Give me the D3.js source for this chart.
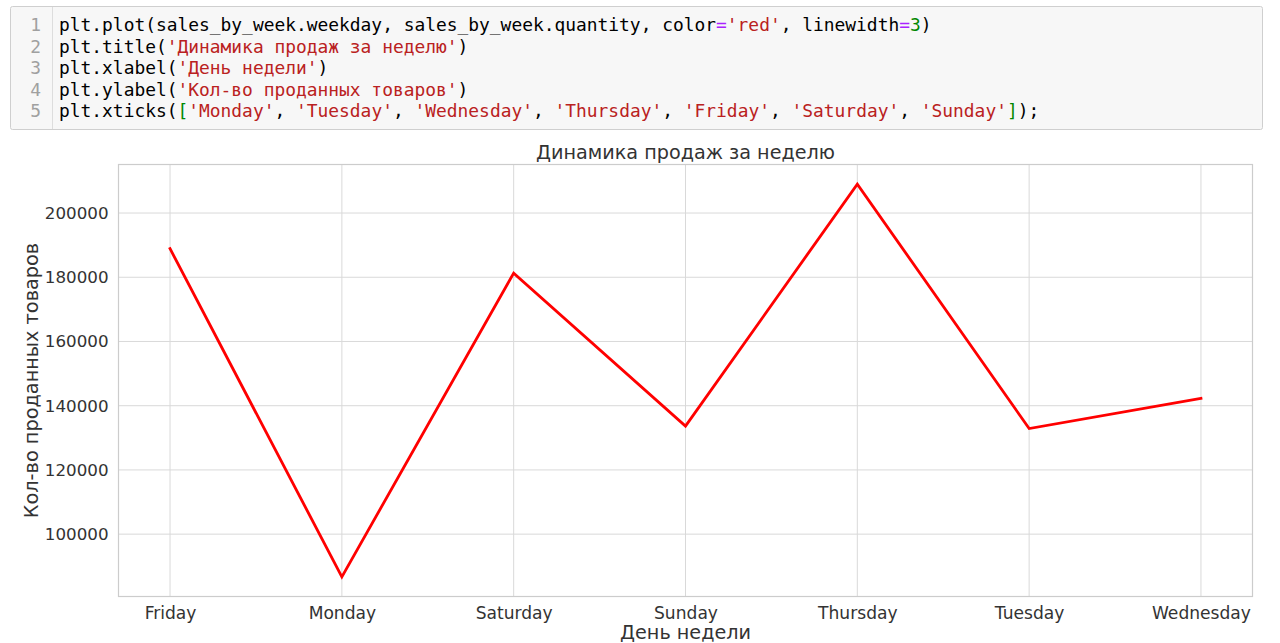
<!DOCTYPE html>
<html>
<head>
<meta charset="utf-8">
<script src="https://cdn.jsdelivr.net/npm/d3@7"></script>
<style>
  html, body { margin: 0; padding: 0; background: #fff; }
  svg { display: block; }
</style>
</head>
<body>
<svg id="chart" width="1280" height="643"></svg>
<script>
// ---- data ----
const days = ["Friday", "Monday", "Saturday", "Sunday", "Thursday", "Tuesday", "Wednesday"];
const quantity = [188900, 86700, 181300, 133650, 209000, 132900, 142250];
const yTicks = [100000, 120000, 140000, 160000, 180000, 200000];
const titleText = "Динамика продаж за неделю";
const xLabelText = "День недели";
const yLabelText = "Кол-во проданных товаров";

// code cell lines: arrays of [text, color]
const C_DEF = "#000000", C_STR = "#BA2121", C_OP = "#AA22FF", C_NUM = "#008800", C_BR = "#008800";
const codeLines = [
  [["plt.plot(sales_by_week.weekday, sales_by_week.quantity, color", C_DEF], ["=", C_OP], ["'red'", C_STR], [", linewidth", C_DEF], ["=", C_OP], ["3", C_NUM], [")", C_DEF]],
  [["plt.title(", C_DEF], ["'Динамика продаж за неделю'", C_STR], [")", C_DEF]],
  [["plt.xlabel(", C_DEF], ["'День недели'", C_STR], [")", C_DEF]],
  [["plt.ylabel(", C_DEF], ["'Кол-во проданных товаров'", C_STR], [")", C_DEF]],
  [["plt.xticks(", C_DEF], ["[", C_BR], ["'Monday'", C_STR], [", ", C_DEF], ["'Tuesday'", C_STR], [", ", C_DEF], ["'Wednesday'", C_STR], [", ", C_DEF], ["'Thursday'", C_STR], [", ", C_DEF], ["'Friday'", C_STR], [", ", C_DEF], ["'Saturday'", C_STR], [", ", C_DEF], ["'Sunday'", C_STR], ["]", C_BR], [");", C_DEF]]
];

(function () {
const svg = d3.select("#chart");

// ---- code cell ----
const cell = svg.append("g");
cell.append("rect").attr("x", 10.5).attr("y", 6.5).attr("width", 1252).attr("height", 123)
  .attr("fill", "#f7f7f7").attr("stroke", "#cfcfcf").attr("stroke-width", 1).attr("rx", 2);
cell.append("line").attr("x1", 52.5).attr("x2", 52.5).attr("y1", 7).attr("y2", 129)
  .attr("stroke", "#dddddd").attr("stroke-width", 1);
const monoFont = "'DejaVu Sans Mono', monospace";
codeLines.forEach((segs, i) => {
  const yy = 25 + i * 21.5;
  cell.append("text").attr("x", 41).attr("y", yy).attr("dy", "0.35em")
    .attr("text-anchor", "end").attr("font-family", monoFont).attr("font-size", 17.9)
    .attr("fill", "#a0a0a0").text(i + 1);
  const t = cell.append("text").attr("x", 59).attr("y", yy).attr("dy", "0.35em")
    .attr("font-family", monoFont).attr("font-size", 17.9)
    .style("white-space", "pre");
  segs.forEach(([s, c]) => t.append("tspan").attr("fill", c).text(s));
});

// ---- chart ----
const pL = 118.5, pR = 1252.5, pT = 164.5, pB = 596.5;
const sansFont = "'DejaVu Sans', sans-serif";
const textColor = "#333333";
const gridColor = "#d9d9d9";

const x = d3.scaleLinear().domain([-0.3, days.length - 1 + 0.3]).range([pL, pR]);
const ymin = d3.min(quantity), ymax = d3.max(quantity), pad = (ymax - ymin) * 0.05;
const y = d3.scaleLinear().domain([ymin - pad, ymax + pad]).range([pB, pT]);

const g = svg.append("g");

// grid
g.append("g").selectAll("line").data(days).join("line")
  .attr("x1", (d, i) => x(i)).attr("x2", (d, i) => x(i))
  .attr("y1", pT).attr("y2", pB).attr("stroke", gridColor).attr("stroke-width", 1);
g.append("g").selectAll("line").data(yTicks).join("line")
  .attr("x1", pL).attr("x2", pR)
  .attr("y1", d => y(d)).attr("y2", d => y(d)).attr("stroke", gridColor).attr("stroke-width", 1);

// spines
g.append("rect").attr("x", pL).attr("y", pT).attr("width", pR - pL).attr("height", pB - pT)
  .attr("fill", "none").attr("stroke", "#cccccc").attr("stroke-width", 1.2);

// axes
const xAxis = d3.axisBottom(x).tickValues(d3.range(days.length)).tickFormat(i => days[i]).tickSize(0).tickPadding(10);
const xg = g.append("g").attr("transform", `translate(0,${pB})`).call(xAxis);
xg.select(".domain").remove();
xg.selectAll("text").attr("font-family", sansFont).attr("font-size", 17.1).attr("fill", textColor);

const yAxis = d3.axisLeft(y).tickValues(yTicks).tickFormat(d3.format("d")).tickSize(0).tickPadding(10);
const yg = g.append("g").attr("transform", `translate(${pL},0)`).call(yAxis);
yg.select(".domain").remove();
yg.selectAll("text").attr("font-family", sansFont).attr("font-size", 16.7).attr("fill", textColor);

// line
const line = d3.line().x((d, i) => x(i)).y(d => y(d));
g.append("path").datum(quantity).attr("d", line)
  .attr("fill", "none").attr("stroke", "red").attr("stroke-width", 2.8)
  .attr("stroke-linejoin", "miter").attr("stroke-linecap", "square");

// titles
g.append("text").attr("x", (pL + pR) / 2).attr("y", 152).attr("dy", "0.35em")
  .attr("text-anchor", "middle").attr("font-family", sansFont).attr("font-size", 19.2)
  .attr("fill", textColor).text(titleText);
g.append("text").attr("x", (pL + pR) / 2).attr("y", 632).attr("dy", "0.35em")
  .attr("text-anchor", "middle").attr("font-family", sansFont).attr("font-size", 19.2)
  .attr("fill", textColor).text(xLabelText);
g.append("text").attr("transform", `translate(31,${(pT + pB) / 2}) rotate(-90)`).attr("dy", "0.35em")
  .attr("text-anchor", "middle").attr("font-family", sansFont).attr("font-size", 19.3)
  .attr("fill", textColor).text(yLabelText);
})();
</script>
</body>
</html>
